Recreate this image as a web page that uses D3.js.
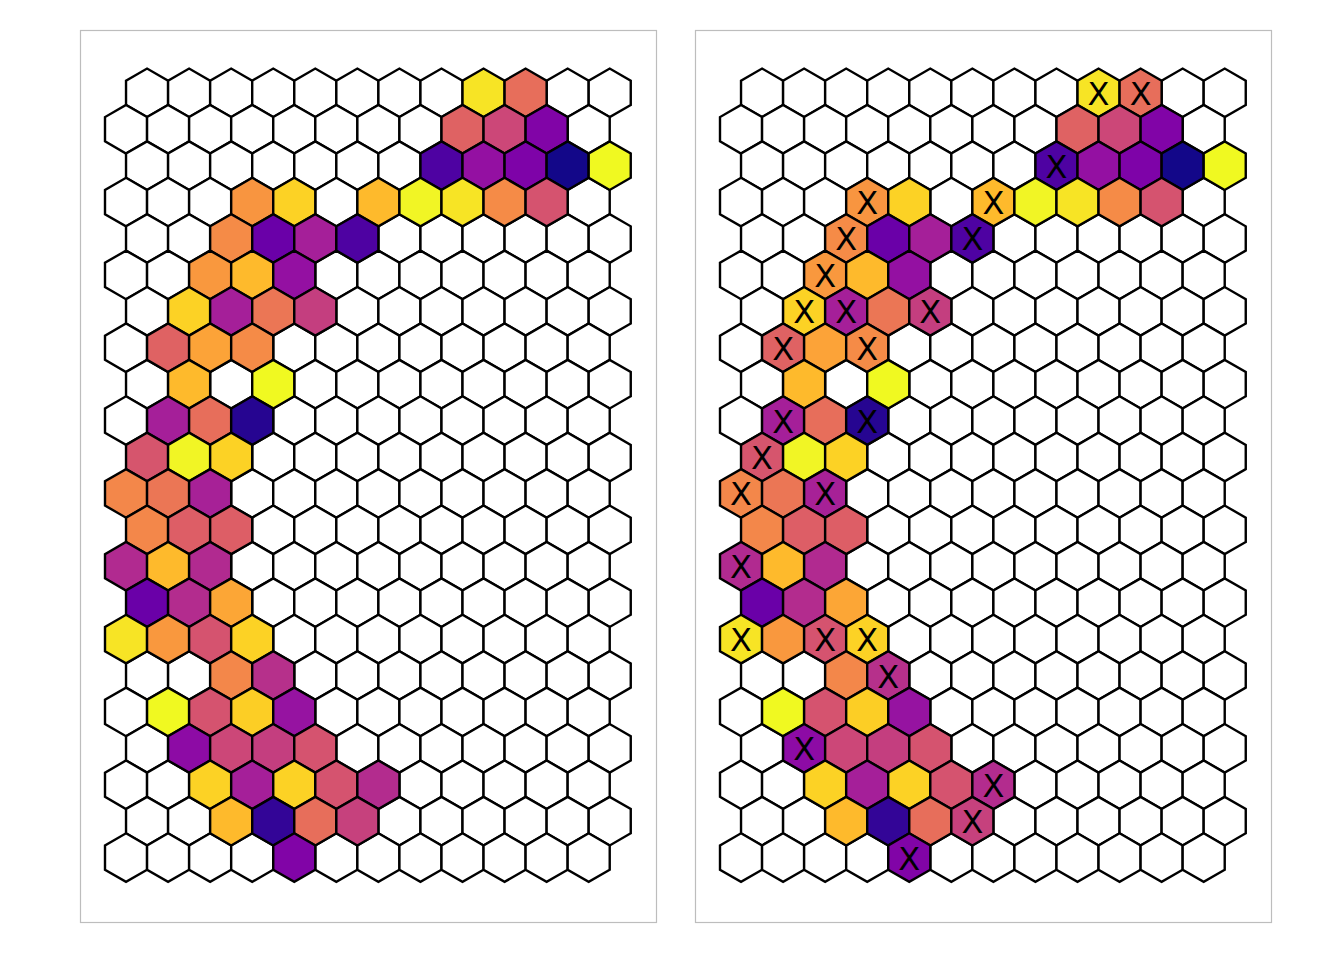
<!DOCTYPE html>
<html>
<head>
<meta charset="utf-8">
<script src="https://cdn.jsdelivr.net/npm/d3@7"></script>
<style>
  html, body { margin: 0; padding: 0; background: #fff; }
  svg { display: block; }
</style>
</head>
<body>
<svg id="chart" width="1344" height="960"></svg>
<script>
// ---- Data ----
const nRows = 22;
const nCols = 12;

// Coloured cells (row, column, value on the plasma scale 0..1, marked with X in right panel)
const cellRow = [
  0, 0,
  1, 1, 1,
  2, 2, 2, 2, 2,
  3, 3, 3, 3, 3, 3, 3,
  4, 4, 4, 4,
  5, 5, 5,
  6, 6, 6, 6,
  7, 7, 7,
  8, 8,
  9, 9, 9,
  10, 10, 10,
  11, 11, 11,
  12, 12, 12,
  13, 13, 13,
  14, 14, 14,
  15, 15, 15, 15,
  16, 16,
  17, 17, 17, 17,
  18, 18, 18, 18,
  19, 19, 19, 19, 19,
  20, 20, 20, 20,
  21
];
const cellCol = [
  8, 9,
  8, 9, 10,
  7, 8, 9, 10, 11,
  3, 4, 6, 7, 8, 9, 10,
  2, 3, 4, 5,
  2, 3, 4,
  1, 2, 3, 4,
  1, 2, 3,
  1, 3,
  1, 2, 3,
  0, 1, 2,
  0, 1, 2,
  0, 1, 2,
  0, 1, 2,
  0, 1, 2,
  0, 1, 2, 3,
  2, 3,
  1, 2, 3, 4,
  1, 2, 3, 4,
  2, 3, 4, 5, 6,
  2, 3, 4, 5,
  4
];
const cellValue = [
  0.95, 0.63,
  0.59, 0.50, 0.26,
  0.13, 0.31, 0.25, 0.01, 1.00,
  0.75, 0.91, 0.85, 0.99, 0.95, 0.72, 0.54,
  0.72, 0.20, 0.36, 0.13,
  0.76, 0.85, 0.31,
  0.91, 0.36, 0.66, 0.47,
  0.59, 0.79, 0.72,
  0.85, 1.00,
  0.36, 0.63, 0.04,
  0.55, 0.99, 0.91,
  0.71, 0.66, 0.37,
  0.71, 0.58, 0.58,
  0.40, 0.85, 0.40,
  0.20, 0.41, 0.80,
  0.95, 0.76, 0.54, 0.91,
  0.71, 0.42,
  1.00, 0.54, 0.90, 0.32,
  0.29, 0.50, 0.47, 0.54,
  0.91, 0.36, 0.91, 0.54, 0.41,
  0.85, 0.07, 0.63, 0.48,
  0.26
];
const cellMark = [
  1, 1,
  0, 0, 0,
  1, 0, 0, 0, 0,
  1, 0, 1, 0, 0, 0, 0,
  1, 0, 0, 1,
  1, 0, 0,
  1, 1, 0, 1,
  1, 0, 1,
  0, 0,
  1, 0, 1,
  1, 0, 0,
  1, 0, 1,
  0, 0, 0,
  1, 0, 0,
  0, 0, 0,
  1, 0, 1, 1,
  0, 1,
  0, 0, 0, 0,
  1, 0, 0, 0,
  0, 0, 0, 0, 1,
  0, 0, 0, 1,
  1
];
const markLabel = "X";

// ---- Layout ----
const svg = d3.select("#chart");
const panels = [
  { x0: 80, showMarks: false },
  { x0: 695, showMarks: true }
];
const panelW = 576, panelH = 892, panelY = 30;

const valueMap = new Map();
cellRow.forEach((r, i) => valueMap.set(r + "," + cellCol[i], { v: cellValue[i], m: cellMark[i] }));

const grid = [];
for (let r = 0; r < nRows; r++) {
  for (let c = 0; c < nCols; c++) {
    const d = valueMap.get(r + "," + c);
    grid.push({ r, c, v: d ? d.v : null, m: d ? d.m : 0 });
  }
}

const color = d3.scaleSequential(d3.interpolatePlasma).domain([0, 1]);

panels.forEach(p => {
  const g = svg.append("g");
  g.append("rect")
    .attr("x", p.x0 + 0.5).attr("y", panelY + 0.5)
    .attr("width", panelW).attr("height", panelH)
    .attr("fill", "none").attr("stroke", "#bdbdbd").attr("stroke-width", 1.2);

  const xScale = d3.scaleLinear().domain([-0.5, nCols]).range([p.x0 + 25, p.x0 + 25 + 42.06 * (nCols + 0.5)]);
  const yScale = d3.scaleLinear().domain([0, nRows - 1]).range([92.8, 857.6]);
  const R = (xScale(1) - xScale(0)) / Math.sqrt(3);
  const hexPts = d3.range(6).map(k => {
    const a = Math.PI / 6 + k * Math.PI / 3;
    return [R * Math.cos(a), R * Math.sin(a)];
  });
  const hexPath = "M" + hexPts.map(q => q[0].toFixed(3) + "," + q[1].toFixed(3)).join("L") + "Z";

  const cx = d => xScale(d.c + (d.r % 2 === 0 ? 0.5 : 0));
  const cy = d => yScale(d.r);

  const sorted = grid.slice().sort((a, b) => (a.v === null ? 0 : 1) - (b.v === null ? 0 : 1));
  g.selectAll("path.hex").data(sorted).enter().append("path")
    .attr("class", "hex")
    .attr("d", hexPath)
    .attr("transform", d => `translate(${cx(d)},${cy(d)})`)
    .attr("fill", d => d.v === null ? "#ffffff" : color(d.v))
    .attr("stroke", "#000")
    .attr("stroke-width", 2.4)
    .attr("stroke-linejoin", "miter");

  if (p.showMarks) {
    g.selectAll("text.mark").data(grid.filter(d => d.m)).enter().append("text")
      .attr("class", "mark")
      .attr("x", cx).attr("y", d => cy(d) + 1)
      .attr("text-anchor", "middle")
      .attr("dominant-baseline", "central")
      .attr("font-family", "DejaVu Sans, sans-serif")
      .attr("font-size", 32)
      .attr("fill", "#000")
      .text(markLabel);
  }
});
</script>
</body>
</html>
